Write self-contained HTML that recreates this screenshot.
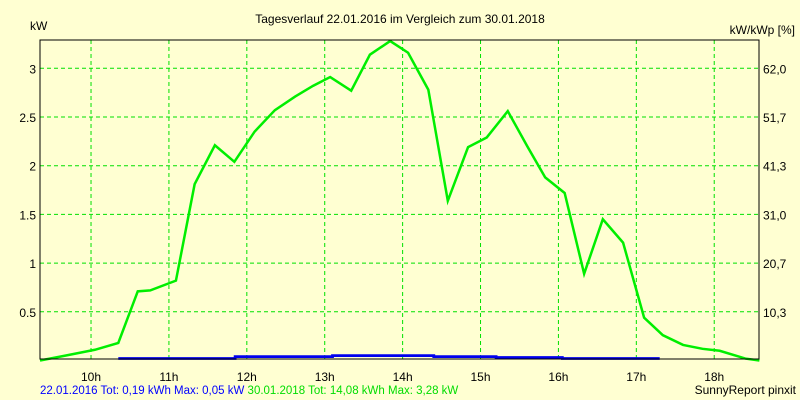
<!DOCTYPE html>
<html><head><meta charset="utf-8"><style>
body{margin:0;background:#ffffd2;}
svg{display:block;font-family:"Liberation Sans",sans-serif;font-size:12px;}
</style></head><body>
<svg id="c" width="800" height="400">
<rect width="800" height="400" fill="#ffffd2"/>
<text x="400" y="23" text-anchor="middle">Tagesverlauf 22.01.2016 im Vergleich zum 30.01.2018</text>
<text x="30" y="30">kW</text>
<text x="795" y="34" text-anchor="end">kW/kWp [%]</text>
<g id="grid"></g><g id="series"></g>
<rect x="40" y="40" width="719" height="319" fill="none" stroke="#000"/>
<text x="40" y="394" font-size="11.5"><tspan fill="#0000ff">22.01.2016 Tot: 0,19 kWh Max: 0,05 kW </tspan><tspan fill="#00dd00">30.01.2018 Tot: 14,08 kWh Max: 3,28 kW</tspan></text>
<text x="796" y="394" text-anchor="end">SunnyReport pinxit</text>
</svg>
<script>
const hourTicks=[10,11,12,13,14,15,16,17,18];
const kwTicks=[0.5,1,1.5,2,2.5,3];
const kwTickLabels=["0.5","1","1.5","2","2.5","3"];
const pctTickLabels=["10,3","20,7","31,0","41,3","51,7","62,0"];
const greenTimes=[9.345,9.67,10.05,10.35,10.6,10.76,11.09,11.33,11.59,11.84,12.1,12.36,12.62,12.85,13.07,13.34,13.58,13.84,14.07,14.33,14.58,14.84,15.08,15.35,15.6,15.83,16.08,16.33,16.57,16.83,17.1,17.34,17.6,17.85,18.07,18.4,18.58];
const greenKw=[0.0,0.05,0.11,0.18,0.71,0.72,0.82,1.81,2.21,2.04,2.35,2.57,2.71,2.82,2.91,2.77,3.14,3.28,3.16,2.78,1.64,2.19,2.29,2.56,2.2,1.88,1.72,0.89,1.45,1.21,0.44,0.26,0.16,0.12,0.1,0.02,0.0];
const blueTimes=[10.35,11.2,11.2,11.85,11.85,13.1,13.1,14.4,14.4,15.2,15.2,16.05,16.05,16.8,16.8,17.3];
const blueKw=[0.005,0.005,0.02,0.02,0.04,0.04,0.05,0.05,0.04,0.04,0.03,0.03,0.02,0.02,0.01,0.01];
const X=h=>40+(h-9.345)*77.9, Y=v=>360.5-v*97.4;
const NS="http://www.w3.org/2000/svg", svg=document.getElementById('c');
const grid=document.getElementById('grid'), ser=document.getElementById('series');
function mk(p,tag,a){const e=document.createElementNS(NS,tag);for(const k in a)e.setAttribute(k,a[k]);p.appendChild(e);return e;}
hourTicks.forEach(h=>{const x=X(h);
 const l=mk(grid,'line',{x1:x,x2:x,y1:40,y2:359,stroke:'#00e000','stroke-dasharray':'4,3'});
 
 
 const t=mk(svg,'text',{x:x,y:381,'text-anchor':'middle'});t.textContent=h+'h';
 
 });
kwTicks.forEach((v,i)=>{const y=Y(v);
 const l=mk(grid,'line',{x1:40,x2:759,y1:y,y2:y,stroke:'#00e000','stroke-dasharray':'4,3'});
 
 
 const t=mk(svg,'text',{x:36,y:y+5,'text-anchor':'end'});t.textContent=kwTickLabels[i];
 
 
 const r=mk(svg,'text',{x:763,y:y+5});r.textContent=pctTickLabels[i];
 
 });
const g=mk(ser,'polyline',{points:greenTimes.map((t,i)=>X(t)+','+Y(greenKw[i])).join(' '),fill:'none',stroke:'#00ee00','stroke-width':2.5});


const b=mk(ser,'polyline',{points:blueTimes.map((t,i)=>X(t)+','+Math.min(358.5,Y(blueKw[i]))).join(' '),fill:'none',stroke:'#0000ee','stroke-width':2.8});


</script>
</body></html>
